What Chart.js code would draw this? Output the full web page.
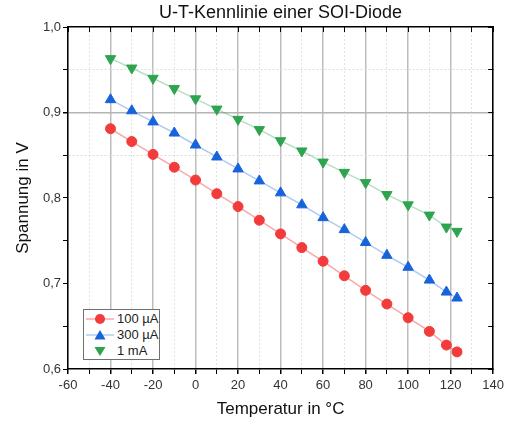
<!DOCTYPE html>
<html>
<head>
<meta charset="utf-8">
<script src="https://cdn.jsdelivr.net/npm/chart.js@4/dist/chart.umd.min.js"></script>
<style>
  body { margin: 0; background: #fff; }
  #wrap { position: relative; width: 508px; height: 423px; }
  #legend { position: absolute; left: 83px; top: 309px; width: 77px; height: 51px;
    border: 1px solid #707070; background: #fff; font: 13px "Liberation Sans", Arial, sans-serif; color: #222; box-sizing: border-box; padding-top: 1px; }
  #legend div { height: 16px; line-height: 16px; display: flex; align-items: center; white-space: nowrap; }
  #legend svg { margin-left: 2px; margin-right: 3px; flex: none; }
</style>
</head>
<body>
<div id="wrap">
  <canvas id="chart" width="508" height="423"></canvas>
  <div id="legend"></div>
</div>
<script>
var temps = [-40, -30, -20, -10, 0, 10, 20, 30, 40, 50, 60, 70, 80, 90, 100, 110, 118, 123];
var u100uA = [0.881, 0.866, 0.851, 0.836, 0.821, 0.805, 0.790, 0.774, 0.758, 0.742, 0.726, 0.709, 0.692, 0.676, 0.660, 0.644, 0.628, 0.620];
var u300uA = [0.915, 0.902, 0.889, 0.876, 0.862, 0.848, 0.834, 0.820, 0.806, 0.792, 0.777, 0.763, 0.748, 0.733, 0.719, 0.704, 0.690, 0.683];
var u1mA = [0.963, 0.952, 0.940, 0.928, 0.916, 0.904, 0.892, 0.880, 0.867, 0.855, 0.842, 0.830, 0.818, 0.804, 0.792, 0.780, 0.766, 0.761];
var seriesNames = ['100 µA', '300 µA', '1 mA'];

var font = '"Liberation Sans", Arial, sans-serif';

function pts(ys) {
  return temps.map(function (t, i) { return {x: t, y: ys[i]}; });
}

var c = document.getElementById("chart");

var datasets = [
  {label: seriesNames[0], data: pts(u100uA), pointStyle: 'circle', pointRadius: 5, rotation: 0,
   backgroundColor: '#F23B3B', borderColor: 'rgba(242,59,59,0.45)', pointBorderColor: '#F23B3B'},
  {label: seriesNames[1], data: pts(u300uA), pointStyle: 'triangle', pointRadius: 6, rotation: 0,
   backgroundColor: '#1763DB', borderColor: 'rgba(23,99,219,0.35)', pointBorderColor: '#1763DB'},
  {label: seriesNames[2], data: pts(u1mA), pointStyle: 'triangle', pointRadius: 6, rotation: 180,
   backgroundColor: '#2EA44F', borderColor: 'rgba(46,164,79,0.35)', pointBorderColor: '#2EA44F'}
];
datasets.forEach(function (d) {
  d.showLine = true;
  d.borderWidth = 1.5;
  d.pointBorderWidth = 1;
  d.pointBackgroundColor = d.backgroundColor;
  d.pointHoverRadius = d.pointRadius;
});

function isMajorX(v) { return Math.round(v) % 20 === 0; }
function yKey(v) { return Math.round(v * 100); }

var opt = {
  type: 'scatter',
  data: {datasets: datasets},
  options: {
    responsive: false,
    animation: false,
    layout: {padding: 0},
    plugins: {legend: {display: false}, title: {display: false}, tooltip: {enabled: false}},
    scales: {
      x: {
        type: 'linear', position: 'bottom', min: -60, max: 140,
        afterFit: function (s) { s.height = 54; },
        ticks: {stepSize: 10, autoSkip: false, maxRotation: 0, padding: 4, color: '#333',
          font: {family: font, size: 13},
          callback: function (v) { return isMajorX(v) ? String(v) : ''; }},
        grid: {
          color: function (ctx) {
            if (!ctx.tick) return '#000';
            return isMajorX(ctx.tick.value) ? '#bdbdbd' : '#e4e4e4';
          },
          lineWidth: function (ctx) { return ctx.tick && isMajorX(ctx.tick.value) ? 1.5 : 1; },
          tickColor: '#000', tickLength: 5
        },
        border: {color: '#000', width: 1.5,
          dash: function (ctx) { return ctx.tick && !isMajorX(ctx.tick.value) ? [2, 2] : []; }},
        title: {display: true, text: 'Temperatur in °C', color: '#111', font: {family: font, size: 17},
          padding: {top: 0, bottom: 3}}
      },
      x2: {
        type: 'linear', position: 'top', min: -60, max: 140,
        afterFit: function (s) { s.height = 27; },
        ticks: {display: false, stepSize: 10, autoSkip: false},
        grid: {drawOnChartArea: false, tickLength: -5, tickColor: '#000'},
        border: {color: '#000', width: 1.5},
        title: {display: true, text: 'U-T-Kennlinie einer SOI-Diode', color: '#111',
          font: {family: font, size: 18}, padding: {top: 2, bottom: 0}}
      },
      y: {
        type: 'linear', position: 'left', min: 0.6, max: 1.0,
        afterFit: function (s) { s.width = 68; },
        ticks: {stepSize: 0.05, autoSkip: false, padding: 2, color: '#333',
          font: {family: font, size: 13},
          callback: function (v) {
            return yKey(v) % 10 === 0 ? v.toFixed(1).replace('.', ',') : '';
          }},
        grid: {
          color: function (ctx) {
            if (!ctx.tick) return '#000';
            var k = yKey(ctx.tick.value);
            if (k === 90) return '#b4b4b4';
            if (k === 95 || k === 85) return '#dcdcdc';
            return 'rgba(0,0,0,0)';
          },
          lineWidth: function (ctx) { return ctx.tick && yKey(ctx.tick.value) === 90 ? 1.5 : 1; },
          tickColor: '#000', tickLength: 5
        },
        border: {color: '#000', width: 1.5,
          dash: function (ctx) { return ctx.tick && yKey(ctx.tick.value) !== 90 ? [2, 2] : []; }},
        title: {display: true, text: 'Spannung in V', color: '#111', font: {family: font, size: 17},
          padding: {top: 13, bottom: 0}}
      },
      y2: {
        type: 'linear', position: 'right', min: 0.6, max: 1.0,
        afterFit: function (s) { s.width = 14; },
        ticks: {display: false, stepSize: 0.05, autoSkip: false},
        grid: {drawOnChartArea: false, tickLength: -5, tickColor: '#000'},
        border: {color: '#000', width: 1.5}
      }
    }
  }
};

var chart = new Chart(c, opt);

// legend as html, built from the datasets
var lg = document.getElementById('legend');
datasets.forEach(function (d, i) {
  var row = document.createElement('div');
  var marker;
  if (d.pointStyle === 'circle') {
    marker = '<circle cx="14" cy="6" r="5" fill="' + d.backgroundColor + '"/>';
  } else if (d.rotation === 180) {
    marker = '<polygon points="8.5,2 19.5,2 14,11" fill="' + d.backgroundColor + '"/>';
  } else {
    marker = '<polygon points="8.5,10.5 19.5,10.5 14,1" fill="' + d.backgroundColor + '"/>';
  }
  var line = i < 2 ? '<line x1="0" y1="6" x2="28" y2="6" stroke="' + d.borderColor + '" stroke-width="1.5"/>' : '';
  row.innerHTML = '<svg width="28" height="12">' + line + marker + '</svg><span>' + d.label + '</span>';
  lg.appendChild(row);
});
</script>
</body>
</html>
